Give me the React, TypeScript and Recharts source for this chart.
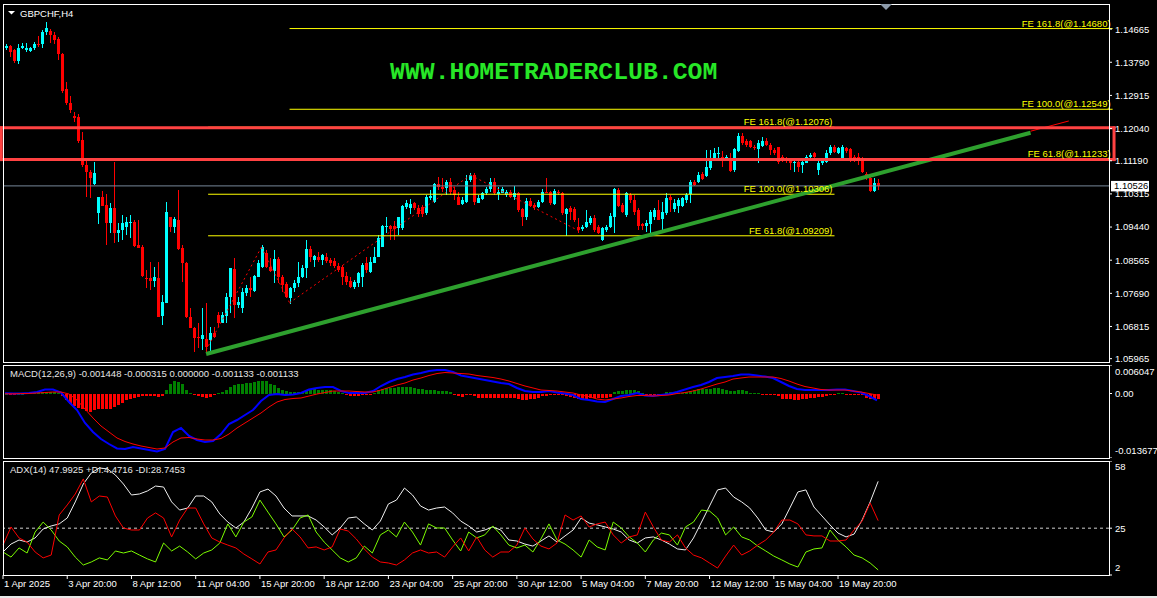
import React from "react";
import {
  ComposedChart,
  Bar,
  Line,
  XAxis,
  YAxis,
  ReferenceLine,
  Cell,
} from "recharts";

const FONT = "'Liberation Sans', Arial, sans-serif";
const BULL = "#00ffff";
const BEAR = "#ff0000";
const FE_COLOR = "#ffff00";

// GBPCHF H4 candles, 1 Apr 2025 .. 21 May 2025
const opens = [
  1.1417, 1.1422, 1.1411, 1.1382, 1.1417, 1.1412, 1.1409, 1.1417, 1.1427, 1.1427,
  1.1459, 1.1462, 1.1451, 1.144, 1.1401, 1.1308, 1.1271, 1.1237, 1.1234, 1.1174,
  1.1108, 1.1089, 1.1058, 1.0981, 1.1023, 1.1002, 1.0955, 1.0994, 1.0928, 1.0936,
  1.0945, 1.0955, 1.0957, 1.0897, 1.0891, 1.081, 1.081, 1.0802, 1.081, 1.0709,
  1.0744, 1.0971, 1.0944, 1.0963, 1.0889, 1.0849, 1.0707, 1.0678, 1.0654, 1.0648,
  1.0648, 1.0646, 1.0664, 1.0712, 1.0691, 1.0709, 1.0759, 1.0833, 1.0738, 1.073,
  1.077, 1.0783, 1.0775, 1.0812, 1.0839, 1.0876, 1.0839, 1.0828, 1.086, 1.0812,
  1.0794, 1.0757, 1.0783, 1.0796, 1.0812, 1.0836, 1.0886, 1.0857, 1.0865, 1.0857,
  1.0865, 1.0857, 1.0854, 1.0841, 1.0839, 1.0815, 1.0802, 1.0786, 1.0796, 1.0812,
  1.0849, 1.0825, 1.0849, 1.0865, 1.0891, 1.0944, 1.0947, 1.0947, 1.0942, 1.0942,
  1.0997, 1.0994, 1.1007, 1.0994, 1.0997, 1.0981, 1.1021, 1.101, 1.1058, 1.105,
  1.1047, 1.1063, 1.1042, 1.1023, 1.1005, 1.101, 1.1068, 1.1081, 1.1007, 1.1018,
  1.1034, 1.1044, 1.1063, 1.1031, 1.1034, 1.1029, 1.1037, 1.1023, 1.1034, 1.0992,
  1.0971, 1.1013, 1.1002, 1.0997, 1.101, 1.1037, 1.1037, 1.1005, 1.1037, 1.1034,
  1.0978, 1.0994, 1.0992, 1.0944, 1.0939, 1.0944, 1.0955, 1.0968, 1.0944, 1.091,
  1.0936, 1.0944, 1.0971, 1.1042, 1.1002, 1.0976, 1.1029, 1.1015, 1.0989, 1.0952,
  1.0947, 1.0952, 1.0971, 1.0989, 1.0965, 1.0981, 1.1023, 1.0992, 1.0999, 1.0999,
  1.1015, 1.1031, 1.1063, 1.1063, 1.1084, 1.1079, 1.11, 1.1126, 1.1137, 1.1129,
  1.1124, 1.1126, 1.1095, 1.1145, 1.1184, 1.1172, 1.1172, 1.1156, 1.115, 1.1158,
  1.1172, 1.1161, 1.1147, 1.1156, 1.1129, 1.1126, 1.1121, 1.1113, 1.1116, 1.1108,
  1.1113, 1.1129, 1.114, 1.1095, 1.1113, 1.1116, 1.114, 1.1156, 1.114, 1.1126,
  1.1153, 1.115, 1.1129, 1.1129, 1.1126, 1.1084, 1.1074, 1.1039, 1.106,
];
const highs = [
  1.1427, 1.1425, 1.1414, 1.1427, 1.143, 1.143, 1.1419, 1.1432, 1.1448, 1.1464,
  1.1485, 1.1467, 1.1459, 1.1446, 1.1403, 1.1327, 1.129, 1.1248, 1.1242, 1.1195,
  1.1121, 1.1095, 1.1116, 1.1023, 1.1039, 1.1031, 1.1007, 1.1116, 1.0955, 1.0976,
  1.0971, 1.0976, 1.0963, 1.0963, 1.0897, 1.0831, 1.0852, 1.0839, 1.0852, 1.0765,
  1.101, 1.0971, 1.0971, 1.1042, 1.0897, 1.0852, 1.073, 1.068, 1.0691, 1.073,
  1.0744, 1.068, 1.068, 1.072, 1.072, 1.077, 1.0836, 1.0862, 1.0759, 1.0783,
  1.0791, 1.0812, 1.0817, 1.0857, 1.0897, 1.0883, 1.0862, 1.0883, 1.0865, 1.0817,
  1.0799, 1.0786, 1.0804, 1.0852, 1.0844, 1.091, 1.0894, 1.087, 1.0878, 1.0873,
  1.0876, 1.0862, 1.0862, 1.0849, 1.0844, 1.0825, 1.0812, 1.0804, 1.0825, 1.0849,
  1.0865, 1.0865, 1.0891, 1.0923, 1.0949, 1.0971, 1.0949, 1.096, 1.0971, 1.1002,
  1.1015, 1.1018, 1.101, 1.1002, 1.1002, 1.1029, 1.1042, 1.106, 1.1076, 1.1074,
  1.1068, 1.1074, 1.105, 1.1037, 1.1023, 1.1081, 1.1087, 1.1087, 1.1029, 1.1037,
  1.105, 1.1074, 1.1074, 1.105, 1.105, 1.1042, 1.1042, 1.1052, 1.1037, 1.0994,
  1.1021, 1.1021, 1.1007, 1.1015, 1.1044, 1.1074, 1.1039, 1.1044, 1.1042, 1.1037,
  1.0994, 1.0999, 1.0997, 1.0968, 1.0949, 1.0989, 1.0973, 1.0976, 1.0949, 1.0944,
  1.0949, 1.0981, 1.1047, 1.1047, 1.1007, 1.1037, 1.1034, 1.1029, 1.0994, 1.0955,
  1.0963, 1.0989, 1.0994, 1.1015, 1.101, 1.1034, 1.1029, 1.1018, 1.1021, 1.1023,
  1.1034, 1.1068, 1.1068, 1.1089, 1.1089, 1.1147, 1.1147, 1.1153, 1.1156, 1.1145,
  1.1134, 1.114, 1.1153, 1.1192, 1.1192, 1.1177, 1.1174, 1.1161, 1.1174, 1.1182,
  1.1179, 1.1166, 1.1153, 1.1156, 1.1134, 1.1129, 1.1126, 1.1121, 1.1121, 1.1121,
  1.1134, 1.114, 1.1142, 1.1121, 1.1126, 1.1147, 1.1161, 1.1161, 1.1156, 1.1161,
  1.1156, 1.1153, 1.1134, 1.114, 1.1129, 1.1089, 1.1081, 1.1074, 1.1071,
];
const lows = [
  1.1411, 1.1393, 1.1377, 1.1374, 1.1414, 1.1406, 1.1406, 1.1411, 1.1419, 1.1417,
  1.1451, 1.143, 1.1427, 1.1385, 1.1298, 1.1266, 1.1245, 1.1221, 1.1166, 1.1102,
  1.1023, 1.1021, 1.1055, 1.0952, 1.0999, 1.0897, 1.0928, 1.0902, 1.0904, 1.091,
  1.0923, 1.0915, 1.0891, 1.0889, 1.0812, 1.0783, 1.0778, 1.0786, 1.0707, 1.0685,
  1.0744, 1.0931, 1.0928, 1.0883, 1.0799, 1.0704, 1.0678, 1.0614, 1.0625, 1.0619,
  1.0614, 1.0617, 1.0651, 1.068, 1.0691, 1.0691, 1.0717, 1.0704, 1.073, 1.0717,
  1.0762, 1.0759, 1.0773, 1.0812, 1.0836, 1.0836, 1.0825, 1.0796, 1.0796, 1.0773,
  1.0757, 1.0741, 1.0773, 1.0786, 1.081, 1.081, 1.0852, 1.0839, 1.0852, 1.0844,
  1.0849, 1.0841, 1.0836, 1.0825, 1.0791, 1.0791, 1.0783, 1.0781, 1.0786, 1.0786,
  1.0823, 1.0823, 1.0849, 1.0865, 1.0891, 1.0928, 1.091, 1.091, 1.0923, 1.0936,
  1.0992, 1.0978, 1.0989, 1.0971, 1.0971, 1.0976, 1.1015, 1.1007, 1.1042, 1.1037,
  1.1029, 1.1029, 1.1015, 1.1002, 1.1002, 1.1007, 1.1063, 1.1002, 1.1007, 1.1015,
  1.1029, 1.1037, 1.1029, 1.1015, 1.1034, 1.1023, 1.1021, 1.1015, 1.0984, 1.0947,
  1.0963, 1.0997, 1.0989, 1.0994, 1.1007, 1.1034, 1.1002, 1.1002, 1.1029, 1.0976,
  1.092, 1.0963, 1.0957, 1.0928, 1.0934, 1.0942, 1.0949, 1.0931, 1.0926, 1.0907,
  1.0931, 1.0942, 1.0928, 1.0997, 1.0981, 1.0971, 1.1007, 1.0976, 1.0936, 1.0936,
  1.0931, 1.0928, 1.0963, 1.0963, 1.0936, 1.0976, 1.0984, 1.0984, 1.0981, 1.0997,
  1.1007, 1.1007, 1.1052, 1.106, 1.1068, 1.1076, 1.1095, 1.1121, 1.1126, 1.1102,
  1.1121, 1.1089, 1.1089, 1.1142, 1.1161, 1.1156, 1.1153, 1.1147, 1.1113, 1.1156,
  1.1158, 1.1134, 1.1134, 1.111, 1.1116, 1.1113, 1.1095, 1.1089, 1.1089, 1.1087,
  1.1113, 1.1126, 1.1121, 1.1081, 1.1108, 1.1113, 1.1134, 1.114, 1.1137, 1.1121,
  1.114, 1.1116, 1.1116, 1.1108, 1.1087, 1.1068, 1.1037, 1.1037, 1.1042,
];
const closes = [
  1.1422, 1.1406, 1.1382, 1.1417, 1.1422, 1.1416, 1.1417, 1.1427, 1.1425, 1.1459,
  1.1469, 1.1451, 1.1438, 1.1401, 1.1303, 1.1271, 1.1253, 1.1232, 1.1172, 1.1108,
  1.1089, 1.1074, 1.1087, 1.1023, 1.0999, 1.0955, 1.0994, 1.0928, 1.0936, 1.0955,
  1.0957, 1.0957, 1.0894, 1.0889, 1.0815, 1.0807, 1.0802, 1.0812, 1.0707, 1.0746,
  1.0984, 1.0944, 1.0965, 1.0886, 1.0849, 1.0707, 1.0678, 1.0651, 1.0651, 1.0659,
  1.0627, 1.0664, 1.0654, 1.0691, 1.0712, 1.0759, 1.0836, 1.0738, 1.0746, 1.0773,
  1.0783, 1.0778, 1.0815, 1.0849, 1.0891, 1.0839, 1.0828, 1.086, 1.0812, 1.0791,
  1.0759, 1.0783, 1.0796, 1.0812, 1.0836, 1.0886, 1.0865, 1.0868, 1.0857, 1.087,
  1.0854, 1.0849, 1.0841, 1.0831, 1.0812, 1.0799, 1.0786, 1.0799, 1.0823, 1.0844,
  1.0831, 1.0852, 1.0865, 1.0915, 1.0947, 1.0947, 1.0939, 1.0939, 1.0971, 1.0999,
  1.1007, 1.1005, 1.0994, 1.0978, 1.0978, 1.1023, 1.1026, 1.1058, 1.105, 1.1044,
  1.1063, 1.1037, 1.1029, 1.1002, 1.1015, 1.1066, 1.1081, 1.101, 1.1021, 1.1034,
  1.1044, 1.1063, 1.1034, 1.1037, 1.1044, 1.1037, 1.1023, 1.1034, 1.0989, 1.0971,
  1.1013, 1.0999, 1.0997, 1.101, 1.1037, 1.1034, 1.1007, 1.1039, 1.1034, 1.0981,
  1.0992, 1.0984, 1.0963, 1.0936, 1.0944, 1.0957, 1.0968, 1.0936, 1.0928, 1.0942,
  1.0944, 1.0973, 1.1044, 1.0999, 1.0984, 1.1034, 1.1015, 1.0984, 1.0947, 1.0947,
  1.0955, 1.0984, 1.0989, 1.0963, 1.0984, 1.1021, 1.1015, 1.1007, 1.1015, 1.1021,
  1.1029, 1.1063, 1.1055, 1.1081, 1.1071, 1.1102, 1.1121, 1.114, 1.114, 1.1124,
  1.1129, 1.1092, 1.115, 1.1184, 1.1166, 1.1161, 1.1156, 1.1153, 1.1166, 1.1172,
  1.1161, 1.1147, 1.114, 1.1116, 1.1121, 1.1121, 1.1113, 1.1116, 1.1102, 1.1116,
  1.1129, 1.1134, 1.1129, 1.1113, 1.1118, 1.114, 1.1156, 1.1142, 1.1153, 1.1156,
  1.1145, 1.1121, 1.1118, 1.1121, 1.1089, 1.1076, 1.1039, 1.106, 1.10526,
];
const lastPrice = 1.10526;

const priceTicks = [
  1.14665, 1.1379, 1.12915, 1.1204, 1.1119, 1.10315, 1.0944, 1.08565, 1.0769, 1.06815, 1.05965,
];

// MACD(12,26,9): histogram on every bar, lines read every second bar
const macdHist = [
  0, -0.00007, -0.00007, 0, 0, 0.00007, 0.00007, 0.00021, 0.00028, 0.00035,
  0.00035, 0.00035, 0.00028, 0.00021, -0.00057, -0.00141, -0.00212, -0.00262, -0.00297, -0.00339,
  -0.00368, -0.00389, -0.00354, -0.00339, -0.00339, -0.00332, -0.00318, -0.00283, -0.00247, -0.00191,
  -0.00141, -0.00106, -0.00085, -0.00071, -0.00057, -0.00057, -0.00049, -0.00057, -0.00071, -0.00057,
  0.00085, 0.00198, 0.00269, 0.00247, 0.00212, 0.00085, 0.00014, -0.00035, -0.00049, -0.00071,
  -0.00085, -0.00071, -0.00042, 0.00014, 0.00042, 0.00085, 0.00141, 0.00191, 0.00212, 0.00212,
  0.00226, 0.00226, 0.00247, 0.00269, 0.00269, 0.00255, 0.00212, 0.00177, 0.00127, 0.00071,
  0.00057, 0.00035, 0.00035, 0.00035, 0.00042, 0.00071, 0.00085, 0.00092, 0.00085, 0.00071,
  0.00071, 0.00071, 0.00057, 0.00035, 0.00014, -0.00021, -0.00049, -0.00057, -0.00049, -0.00035,
  -0.00021, -0.00007, 0.00021, 0.00064, 0.00099, 0.0012, 0.00127, 0.00127, 0.00134, 0.00141,
  0.00141, 0.00141, 0.00127, 0.00106, 0.00092, 0.00085, 0.00071, 0.00071, 0.00057, 0.00049,
  0.00049, 0.00035, -0.00021, -0.00057, -0.00071, -0.00035, -0.00035, -0.00057, -0.00085, -0.00085,
  -0.00085, -0.00085, -0.00085, -0.00085, -0.00085, -0.00085, -0.00085, -0.00085, -0.0012, -0.00141,
  -0.00127, -0.0012, -0.00106, -0.00085, -0.00057, -0.00057, -0.00035, -0.00035, -0.00021, -0.00035,
  -0.00057, -0.00071, -0.00085, -0.00106, -0.0012, -0.00106, -0.00092, -0.00092, -0.00092, -0.00092,
  -0.00092, -0.00071, 0.00035, 0.00049, 0.00057, 0.00071, 0.00071, 0.00071, 0.00049, 0.00021,
  -0.00035, -0.00035, -0.00021, -0.00021, -0.00021, 0.00028, 0.00035, 0.00035, 0.00021, 0.00021,
  0.00035, 0.00049, 0.00071, 0.00092, 0.00092, 0.00106, 0.00106, 0.0012, 0.0012, 0.00092,
  0.00071, 0.00049, 0.00049, 0.00071, 0.00071, 0.00049, 0.00021, 0.00014, 0.00014, -0.00021,
  -0.00021, -0.00035, -0.00035, -0.00057, -0.00106, -0.00106, -0.00106, -0.00127, -0.00127, -0.00106,
  -0.00106, -0.00092, -0.00092, -0.00071, -0.00071, -0.00049, -0.00035, -0.00035, 0.00014, 0.00014,
  -0.00021, -0.00021, -0.00035, -0.00035, -0.00035, -0.00085, -0.00106, -0.00113, -0.00113,
];
const macdMain = [
  0.00004, 0, 0, 0.00011, 0.00032, 0.00085, 0.00085, 0.00021, -0.0018, -0.0035,
  -0.00625, -0.00816, -0.00965, -0.01071, -0.01166, -0.01177, -0.01134, -0.01166, -0.01198, -0.0123,
  -0.01177, -0.00816, -0.00731, -0.00901, -0.00986, -0.01028, -0.01007, -0.00859, -0.00647, -0.00562,
  -0.00456, -0.0035, -0.00159, -0.00032, -0.00011, -0.00032, -0.00021, 0.00011, 0.00085, 0.00117,
  0.00138, 0.00138, 0.00053, 0.00011, 0.00011, 0.00011, 0.00053, 0.00159, 0.00244, 0.00307,
  0.0035, 0.00403, 0.00435, 0.00477, 0.00498, 0.00498, 0.00456, 0.00382, 0.0035, 0.00318,
  0.00286, 0.00254, 0.00223, 0.00201, 0.00117, 0.00053, 0.00032, 0.00032, 0.00053, 0.00021,
  0, -0.00032, -0.00117, -0.00138, -0.0017, -0.0018, -0.00117, -0.00053, -0.00032, 0.00011,
  -0.00042, -0.00053, -0.00032, -0.00011, 0.00032, 0.00085, 0.00138, 0.0018, 0.00244, 0.00329,
  0.0035, 0.00371, 0.00403, 0.00403, 0.00382, 0.0036, 0.00329, 0.00244, 0.00159, 0.00095,
  0.00074, 0.00074, 0.00074, 0.00074, 0.00085, 0.00085, 0.00053, 0.00021, -0.00053, -0.00145,
];
const macdSignal = [
  -0.00006, -0.00006, -0.00002, 0.00002, 0.00011, 0.00021, 0.00032, 0.00032, -0.00011, -0.00138,
  -0.00329, -0.00519, -0.00689, -0.00816, -0.00943, -0.01018, -0.01071, -0.01113, -0.01145, -0.01177,
  -0.01155, -0.01028, -0.00943, -0.00933, -0.00965, -0.00986, -0.00986, -0.00954, -0.00859, -0.00731,
  -0.00625, -0.00519, -0.00413, -0.00286, -0.0018, -0.00127, -0.00106, -0.00095, -0.00053, -0.00011,
  0.00021, 0.00053, 0.00053, 0.00053, 0.00042, 0.00032, 0.00032, 0.00074, 0.00127, 0.0018,
  0.00223, 0.00286, 0.00329, 0.00382, 0.00424, 0.00445, 0.00435, 0.00424, 0.00413, 0.00382,
  0.0036, 0.00339, 0.00307, 0.00265, 0.00212, 0.00159, 0.00117, 0.00074, 0.00064, 0.00053,
  0.00032, 0.00011, -0.00032, -0.00064, -0.00117, -0.00138, -0.00117, -0.00095, -0.00064, -0.00042,
  -0.00042, -0.00053, -0.00042, -0.00032, 0, 0.00021, 0.00053, 0.00095, 0.00148, 0.00201,
  0.00244, 0.00307, 0.00329, 0.0035, 0.0035, 0.0035, 0.0035, 0.00318, 0.00265, 0.00201,
  0.00148, 0.00117, 0.00085, 0.00074, 0.00074, 0.00074, 0.00053, 0.00032, 0, -0.00032,
];
const macdTicks = [0.006047, 0, -0.013677];
const macdTickLabels = ["0.006047", "0.00", "-0.013677"];

// ADX(14), read every second bar
const adxMain = [
  13.3, 17.2, 19.2, 18.2, 20.2, 24.6, 26.1, 27.1, 30.0, 37.9,
  46.7, 52.1, 54.6, 54.1, 51.1, 46.7, 41.3, 41.8, 43.3, 45.7,
  45.2, 37.9, 33.9, 34.9, 40.8, 40.8, 37.9, 32.0, 28.0, 25.1,
  28.0, 34.9, 42.8, 44.2, 40.8, 34.9, 31.0, 31.0, 31.0, 29.0,
  25.6, 21.7, 25.1, 30.0, 30.5, 27.1, 24.1, 28.5, 36.9, 38.8,
  44.7, 41.3, 35.9, 33.9, 34.9, 35.4, 32.5, 28.5, 26.1, 23.1,
  24.1, 25.6, 24.1, 19.2, 18.7, 17.2, 16.2, 18.7, 21.2, 18.2,
  21.2, 24.1, 30.0, 27.5, 26.6, 25.6, 24.6, 23.1, 19.2, 17.7,
  20.2, 20.7, 19.2, 17.2, 14.8, 14.3, 20.2, 28.0, 35.9, 43.8,
  44.7, 40.3, 37.9, 34.9, 30.0, 24.1, 23.1, 27.1, 34.9, 42.8,
  43.8, 35.4, 31.0, 26.6, 22.6, 20.7, 22.1, 29.0, 37.9, 48.0,
];
const minusDi = [
  16.7, 25.6, 20.2, 18.2, 13.3, 10.4, 11.8, 31.5, 36.4, 41.8,
  49.2, 37.9, 40.8, 40.3, 31.0, 25.1, 24.1, 24.1, 30.0, 32.5,
  30.0, 20.7, 29.0, 34.9, 34.9, 27.1, 20.2, 18.2, 16.7, 15.3,
  12.3, 9.9, 7.4, 13.3, 14.3, 20.2, 24.6, 20.7, 15.3, 15.8,
  14.3, 15.8, 24.6, 23.6, 19.7, 14.8, 10.8, 8.4, 7.9, 6.9,
  9.4, 12.8, 14.3, 12.8, 13.3, 10.8, 15.8, 20.2, 13.8, 20.7,
  14.3, 10.8, 13.3, 13.3, 16.7, 25.1, 19.7, 16.2, 14.8, 17.7,
  31.5, 29.0, 31.0, 25.6, 27.1, 28.0, 21.7, 17.7, 20.7, 21.7,
  32.9, 25.6, 19.2, 18.2, 21.7, 15.3, 11.8, 10.4, 7.9, 5.4,
  11.3, 16.7, 11.8, 13.8, 16.7, 19.2, 23.1, 29.0, 29.0, 27.1,
  21.7, 21.2, 21.2, 18.7, 18.7, 19.2, 24.1, 28.5, 37.4, 28.7,
];
const plusDi = [
  13.3, 10.8, 15.3, 12.8, 23.1, 28.0, 24.1, 18.7, 15.8, 10.8,
  6.9, 8.4, 10.4, 9.4, 13.8, 12.8, 13.8, 11.8, 9.9, 8.4,
  17.7, 13.8, 16.2, 13.3, 9.9, 12.8, 14.3, 17.7, 27.1, 20.7,
  28.0, 30.5, 38.8, 32.9, 27.1, 20.7, 24.1, 30.0, 31.5, 23.1,
  18.2, 14.3, 10.4, 8.4, 10.4, 16.2, 12.8, 21.7, 24.1, 20.7,
  28.0, 23.1, 16.7, 27.1, 25.1, 25.1, 19.2, 13.8, 23.1, 20.2,
  21.7, 26.1, 21.7, 16.7, 15.3, 16.7, 13.3, 19.7, 27.1, 19.2,
  17.2, 14.3, 10.8, 19.2, 15.8, 14.3, 28.0, 25.1, 20.7, 17.7,
  13.3, 19.2, 22.6, 21.7, 16.7, 25.6, 28.0, 33.9, 33.4, 30.0,
  21.7, 25.6, 20.7, 19.2, 16.2, 13.8, 11.3, 9.4, 7.4, 5.9,
  13.3, 14.8, 15.3, 24.1, 19.2, 15.8, 11.8, 10.4, 7.9, 4.5,
];
const adxTicks = [58, 25, 2];

const timeLabelBars = [0, 16, 32, 48, 64, 80, 96, 112, 128, 144, 160, 176, 192, 208];
const timeLabels = [
  "1 Apr 2025", "3 Apr 20:00", "8 Apr 12:00", "11 Apr 04:00", "15 Apr 20:00",
  "18 Apr 12:00", "23 Apr 04:00", "25 Apr 20:00", "30 Apr 12:00", "5 May 04:00",
  "7 May 20:00", "12 May 12:00", "15 May 04:00", "19 May 20:00",
];

// Fibonacci expansion swing points (bar, price) and levels
const feSwingBars = [50.5, 64.25, 71.25, 116.25, 143.75];
const feSwingPrices = [1.0619, 1.0891, 1.0744, 1.1081, 1.0931];
const feLowerLevels = [1.12076, 1.10306, 1.09209];
const feLowerNames = ["FE 161.8(@1.12076)", "FE 100.0(@1.10306)", "FE 61.8(@1.09209)"];
const feUpperLevels = [1.1468, 1.12549, 1.11233];
const feUpperNames = ["FE 161.8(@1.14680)", "FE 100.0(@1.12549)", "FE 61.8(@1.11233)"];
const feLowerSpan = [51, 206.75];
const feUpperSpan = [71.25, 275.9];
const trendBars = [50.5, 255.5];
const trendPrices = [1.0609, 1.1193];
const trendTailBars = [255.5, 265];
const trendTailPrices = [1.1197, 1.1224];
// supply zone box: left/right bar, bottom/top price
const zoneBars = [-0.43, 276.25];
const zonePrices = [1.1122, 1.1206];

const SLOTS = 276;
const slots = Array.from({ length: SLOTS }, (_, i) => i);
const candleRows = slots.map((i) => ({ i, o: opens[i], h: highs[i], l: lows[i], c: closes[i] }));
const macdRows = slots.map((i) => ({
  i,
  hist: macdHist[i],
  macd: i % 2 === 0 ? macdMain[i / 2] : undefined,
  signal: i % 2 === 0 ? macdSignal[i / 2] : undefined,
}));
const adxRows = slots.map((i) => ({
  i,
  adx: i % 2 === 0 ? adxMain[i / 2] : undefined,
  plus: i % 2 === 0 ? plusDi[i / 2] : undefined,
  minus: i % 2 === 0 ? minusDi[i / 2] : undefined,
}));

// the four sides of the zone box
const zoneSides = [
  [{ x: zoneBars[0], y: zonePrices[1] }, { x: zoneBars[1], y: zonePrices[1] }],
  [{ x: zoneBars[0], y: zonePrices[0] }, { x: zoneBars[1], y: zonePrices[0] }],
  [{ x: zoneBars[0], y: zonePrices[0] }, { x: zoneBars[0], y: zonePrices[1] }],
  [{ x: zoneBars[1], y: zonePrices[0] }, { x: zoneBars[1], y: zonePrices[1] }],
];

const MARGIN = { top: 0, right: 0, bottom: 0, left: 3 };
const AXIS_W = 48;
const NUM_DOMAIN = [-0.5, 276];

function Candle(props: any) {
  const { x, y, width, height, payload } = props;
  if (!payload || payload.o == null) return <g />;
  const { o, h, l, c } = payload;
  const top = Math.min(y, y + height);
  const span = Math.abs(height);
  const k = h > l ? span / (h - l) : 0;
  const bodyTop = top + (h - Math.max(o, c)) * k;
  const bodyBot = top + (h - Math.min(o, c)) * k;
  const cx = Math.round(x + width / 2);
  const col = c >= o ? BULL : BEAR;
  return (
    <g shapeRendering="crispEdges">
      <rect x={cx} y={top} width={1} height={Math.max(1, span)} fill={col} />
      <rect x={cx - 1} y={bodyTop} width={3} height={Math.max(1, bodyBot - bodyTop)} fill={col} />
    </g>
  );
}

function HistBar(props: any) {
  const { x, y, width, height, payload } = props;
  if (!payload || payload.hist == null) return <g />;
  const cx = Math.round(x + width / 2);
  return (
    <rect
      x={cx - 1}
      y={Math.min(y, y + height)}
      width={3}
      height={Math.max(1, Math.abs(height))}
      fill={payload.hist >= 0 ? "#008000" : "#ff0000"}
      shapeRendering="crispEdges"
    />
  );
}

function PriceTick(props: any) {
  const { x, y, payload } = props;
  return (
    <text x={x} y={y} dy={3.4} fill="#ffffff" fontSize={9.5} fontFamily={FONT}>
      {payload.value.toFixed(5)}
    </text>
  );
}

function MacdTick(props: any) {
  const { x, y, payload, index } = props;
  const shift = index === 0 ? 7 : index === macdTicks.length - 1 ? -7 : 0;
  return (
    <text x={x} y={y + shift} dy={3.4} fill="#ffffff" fontSize={9.5} fontFamily={FONT}>
      {macdTickLabels[macdTicks.indexOf(payload.value)]}
    </text>
  );
}

function AdxTick(props: any) {
  const { x, y, payload, index } = props;
  const shift = index === 0 ? 6 : index === adxTicks.length - 1 ? -7 : 0;
  return (
    <text x={x} y={y + shift} dy={3.4} fill="#ffffff" fontSize={9.5} fontFamily={FONT}>
      {payload.value}
    </text>
  );
}

function TimeTick(props: any) {
  const { x, y, payload } = props;
  const idx = timeLabelBars.indexOf(payload.value);
  return (
    <text x={x + 1} y={y} dy={6.4} fill="#ffffff" fontSize={9.5} fontFamily={FONT} textAnchor="start">
      {idx >= 0 ? timeLabels[idx] : ""}
    </text>
  );
}

function PriceTag(props: any) {
  const vb = props.viewBox || props;
  const x = vb.x + vb.width + 2;
  const y = vb.y;
  return (
    <g>
      <rect x={x} y={y - 5} width={38} height={10.5} fill="#ffffff" />
      <text x={x + 3} y={y + 3.5} fill="#000000" fontSize={9.5} fontFamily={FONT}>
        {lastPrice.toFixed(5)}
      </text>
    </g>
  );
}

const frame = (top: number, height: number): React.CSSProperties => ({
  position: "absolute",
  left: 3,
  top,
  width: 1107,
  height,
  border: "1px solid #ffffff",
  boxSizing: "border-box",
  pointerEvents: "none",
});

const feLabel = (value: string) => ({
  value,
  position: "insideBottomRight" as const,
  offset: 2,
  fill: FE_COLOR,
  fontSize: 9.5,
  fontFamily: FONT,
});

export default function App() {
  return (
    <div
      style={{
        position: "absolute",
        left: 0,
        top: 0,
        width: 1157,
        height: 598,
        background: "#000000",
        overflow: "hidden",
        fontFamily: FONT,
      }}
    >
      {/* price panel */}
      <div style={{ position: "absolute", left: 0, top: 4 }}>
        <ComposedChart width={1157} height={359} data={candleRows} margin={MARGIN}>
          <XAxis xAxisId="c" dataKey="i" type="category" hide padding={{ left: 0, right: 2 }} />
          <XAxis xAxisId="n" type="number" domain={NUM_DOMAIN} hide allowDataOverflow />
          <YAxis
            yAxisId="p"
            orientation="right"
            width={AXIS_W}
            domain={[1.05851, 1.15328]}
            allowDataOverflow
            ticks={priceTicks}
            interval={0}
            tick={<PriceTick />}
            tickSize={3}
            tickMargin={3}
            stroke="#ffffff"
            axisLine={false}
          />
          <ReferenceLine
            xAxisId="n"
            yAxisId="p"
            y={lastPrice}
            stroke="#778899"
            label={PriceTag}
          />
          <Bar
            xAxisId="c"
            yAxisId="p"
            dataKey={(d: any) => (d.h == null ? null : [d.l, d.h])}
            barSize={3}
            shape={(p: any) => <Candle {...p} />}
            isAnimationActive={false}
          />
          {feSwingBars.slice(0, -1).map((b, k) => (
            <ReferenceLine
              key={`sw${k}`}
              xAxisId="n"
              yAxisId="p"
              segment={[
                { x: b, y: feSwingPrices[k] },
                { x: feSwingBars[k + 1], y: feSwingPrices[k + 1] },
              ]}
              stroke="#ff0000"
              strokeDasharray="2 3"
            />
          ))}
          {feLowerLevels.map((lv, k) => (
            <ReferenceLine
              key={`fl${k}`}
              xAxisId="n"
              yAxisId="p"
              segment={[
                { x: feLowerSpan[0], y: lv },
                { x: feLowerSpan[1], y: lv },
              ]}
              stroke={FE_COLOR}
              label={feLabel(feLowerNames[k])}
            />
          ))}
          {feUpperLevels.map((lv, k) => (
            <ReferenceLine
              key={`fu${k}`}
              xAxisId="n"
              yAxisId="p"
              ifOverflow="visible"
              segment={[
                { x: feUpperSpan[0], y: lv },
                { x: feUpperSpan[1], y: lv },
              ]}
              stroke={FE_COLOR}
              label={feLabel(feUpperNames[k])}
            />
          ))}
          <ReferenceLine
            xAxisId="n"
            yAxisId="p"
            segment={[
              { x: trendBars[0], y: trendPrices[0] },
              { x: trendBars[1], y: trendPrices[1] },
            ]}
            stroke="#2ea02e"
            strokeWidth={4}
          />
          <ReferenceLine
            xAxisId="n"
            yAxisId="p"
            segment={[
              { x: trendTailBars[0], y: trendTailPrices[0] },
              { x: trendTailBars[1], y: trendTailPrices[1] },
            ]}
            stroke="#ff0000"
            strokeWidth={1}
          />
          {zoneSides.map((seg, k) => (
            <ReferenceLine
              key={`zone${k}`}
              xAxisId="n"
              yAxisId="p"
              ifOverflow="visible"
              segment={seg}
              stroke="#ff4242"
              strokeWidth={3}
              strokeLinecap="square"
            />
          ))}
        </ComposedChart>
      </div>

      {/* MACD panel */}
      <div style={{ position: "absolute", left: 0, top: 365 }}>
        <ComposedChart width={1157} height={93} data={macdRows} margin={MARGIN}>
          <XAxis xAxisId="c" dataKey="i" type="category" hide padding={{ left: 0, right: 2 }} />
          <YAxis
            yAxisId="m"
            orientation="right"
            width={AXIS_W}
            domain={[-0.013677, 0.006047]}
            allowDataOverflow
            ticks={macdTicks}
            interval={0}
            tick={<MacdTick />}
            tickSize={3}
            tickMargin={3}
            stroke="#ffffff"
            axisLine={false}
          />
          <Bar
            xAxisId="c"
            yAxisId="m"
            dataKey="hist"
            barSize={3}
            shape={(p: any) => <HistBar {...p} />}
            isAnimationActive={false}
          >
            {macdRows.map((r) => (
              <Cell key={r.i} fill={(r.hist ?? 0) >= 0 ? "#008000" : "#ff0000"} />
            ))}
          </Bar>
          <Line
            xAxisId="c"
            yAxisId="m"
            dataKey="macd"
            stroke="#0000ff"
            strokeWidth={2}
            dot={false}
            connectNulls
            isAnimationActive={false}
          />
          <Line
            xAxisId="c"
            yAxisId="m"
            dataKey="signal"
            stroke="#ff0000"
            strokeWidth={1}
            dot={false}
            connectNulls
            isAnimationActive={false}
          />
        </ComposedChart>
      </div>

      {/* ADX panel */}
      <div style={{ position: "absolute", left: 0, top: 461 }}>
        <ComposedChart width={1157} height={136} data={adxRows} margin={MARGIN}>
          <XAxis
            xAxisId="c"
            dataKey="i"
            type="category"
            padding={{ left: 0, right: 2 }}
            ticks={timeLabelBars}
            interval={0}
            tick={<TimeTick />}
            tickSize={4}
            tickMargin={2}
            stroke="#ffffff"
            axisLine={false}
            height={22}
          />
          <YAxis
            yAxisId="a"
            orientation="right"
            width={AXIS_W}
            domain={[2, 58]}
            allowDataOverflow
            ticks={adxTicks}
            interval={0}
            tick={<AdxTick />}
            tickSize={3}
            tickMargin={3}
            stroke="#ffffff"
            axisLine={false}
          />
          <ReferenceLine xAxisId="c" yAxisId="a" y={25} stroke="#d0d0d0" strokeDasharray="3 3" />
          <Line
            xAxisId="c"
            yAxisId="a"
            dataKey="adx"
            stroke="#f0f0f0"
            strokeWidth={1}
            dot={false}
            connectNulls
            isAnimationActive={false}
          />
          <Line
            xAxisId="c"
            yAxisId="a"
            dataKey="plus"
            stroke="#7cfc00"
            strokeWidth={1}
            dot={false}
            connectNulls
            isAnimationActive={false}
          />
          <Line
            xAxisId="c"
            yAxisId="a"
            dataKey="minus"
            stroke="#ff0000"
            strokeWidth={1}
            dot={false}
            connectNulls
            isAnimationActive={false}
          />
        </ComposedChart>
      </div>

      {/* panel frames */}
      <div style={frame(4, 359)} />
      <div style={frame(365, 94)} />
      <div style={frame(461, 115)} />
      <div style={{ position: "absolute", left: 0, top: 596, width: 1157, height: 2, background: "#e8e8e8" }} />

      {/* chart window texts */}
      <svg
        width={1157}
        height={598}
        style={{ position: "absolute", left: 0, top: 0, pointerEvents: "none" }}
      >
        <polygon points="8,11 15,11 11.5,14.5" fill="#ffffff" />
        <text x={20} y={16.5} fill="#ffffff" fontSize={9.5} fontFamily={FONT}>
          GBPCHF,H4
        </text>
        <polygon points="880,4 892,4 886,10" fill="#8c9aaa" />
        <text
          x={390}
          y={79}
          fill="#27e627"
          fontSize={24.8}
          fontWeight="bold"
          fontFamily="'Liberation Mono', 'DejaVu Sans Mono', monospace"
        >
          WWW.HOMETRADERCLUB.COM
        </text>
        <text x={10} y={376.5} fill="#e6e6e6" fontSize={9.5} fontFamily={FONT}>
          MACD(12,26,9) -0.001448 -0.000315 0.000000 -0.001133 -0.001133
        </text>
        <text x={10} y={472.5} fill="#e6e6e6" fontSize={9.5} fontFamily={FONT}>
          ADX(14) 47.9925 +DI:4.4716 -DI:28.7453
        </text>
      </svg>
    </div>
  );
}
